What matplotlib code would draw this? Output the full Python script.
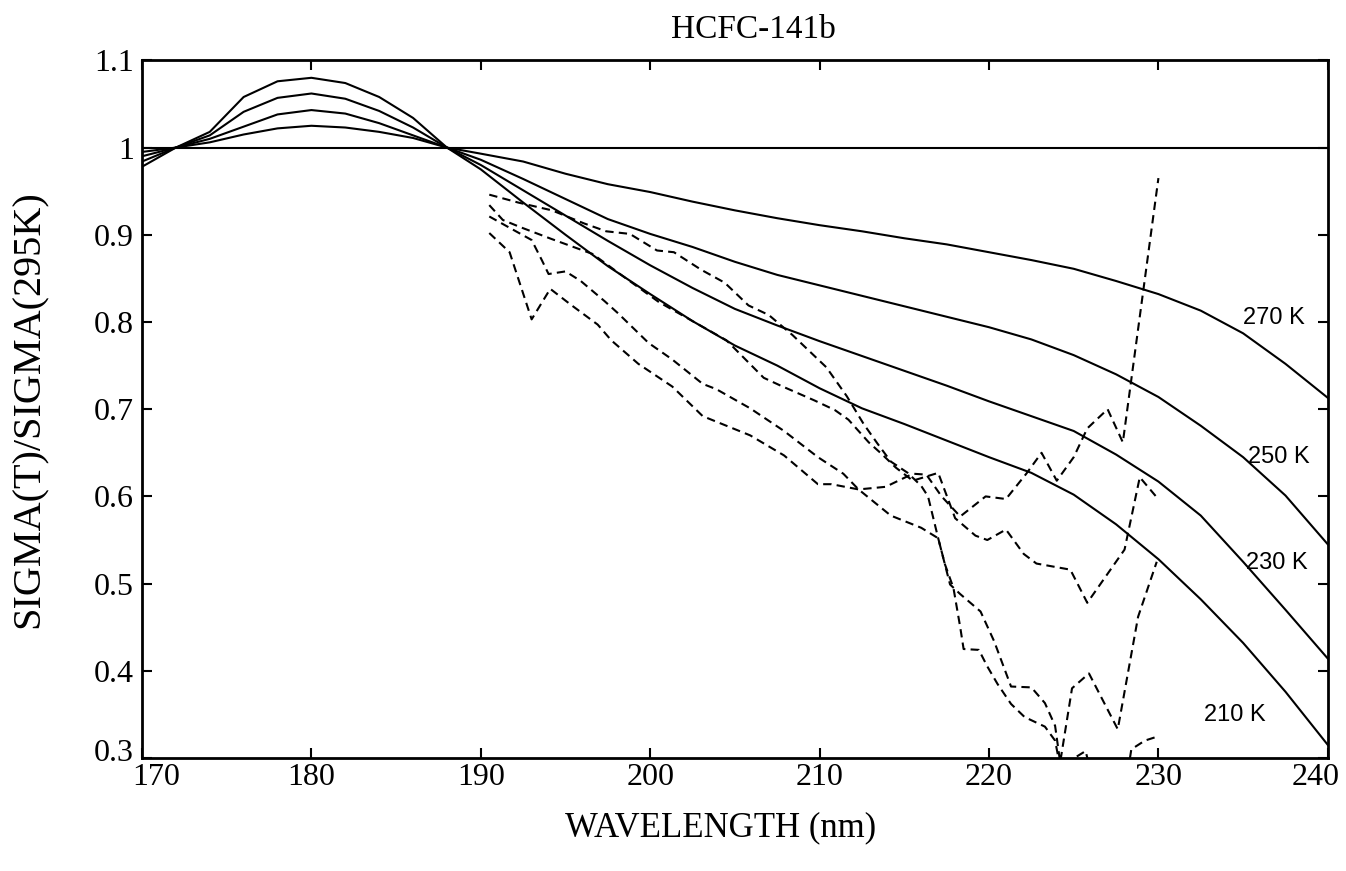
import numpy as np
import matplotlib
matplotlib.use("Agg")
import matplotlib.pyplot as plt
from matplotlib.transforms import ScaledTranslation

plt.rcParams['font.family'] = ['Liberation Serif', 'DejaVu Serif']

# longueurs d'onde communes des courbes calculees (trait plein)
wl = [170, 172, 174, 176, 178, 180, 182, 184, 186, 188, 190, 192.5, 195, 197.5,
      200, 202.5, 205, 207.5, 210, 212.5, 215, 217.5, 220, 222.5, 225, 227.5,
      230, 232.5, 235, 237.5, 240]

r270 = [.995, 1.0, 1.006, 1.015, 1.022, 1.025, 1.023, 1.018, 1.011, 1.0, .993,
        .984, .970, .958, .949, .938, .928, .919, .911, .904, .896, .889, .880,
        .871, .861, .847, .832, .813, .787, .752, .713]
r250 = [.990, 1.0, 1.010, 1.024, 1.038, 1.043, 1.039, 1.028, 1.014, 1.0, .986,
        .964, .941, .918, .901, .886, .869, .854, .842, .830, .818, .806, .794,
        .780, .762, .740, .714, .681, .645, .601, .545]
r230 = [.984, 1.0, 1.014, 1.041, 1.057, 1.062, 1.056, 1.042, 1.023, 1.0, .980,
        .951, .922, .893, .865, .839, .815, .796, .778, .761, .744, .727, .709,
        .692, .675, .648, .617, .578, .525, .470, .414]
r210 = [.978, 1.0, 1.018, 1.058, 1.076, 1.080, 1.074, 1.058, 1.034, 1.0, .975,
        .937, .900, .864, .832, .801, .773, .750, .724, .701, .683, .664, .645,
        .627, .602, .568, .528, .482, .432, .376, .315]
r295 = [1.0] * len(wl)

# mesures (tirets)
wl_a = [190.5, 192.2, 194.2, 196.1, 197.4, 198.8, 200.4, 201.4, 203.0, 204.4,
        205.8, 207.0, 208.4, 210.4, 211.6, 212.6, 213.4, 214.2, 215.2, 216.0,
        216.4, 217.0, 217.4, 217.9, 218.3, 218.5, 219.4, 219.9, 220.5, 221.3,
        222.1, 223.3, 223.9, 224.2, 225.7, 226.0, 228.2, 228.4, 229.2, 230.0]
mes_a = [.946, .937, .928, .913, .904, .901, .882, .880, .860, .845, .819, .808,
         .785, .748, .715, .683, .661, .640, .627, .612, .600, .552, .522, .495,
         .450, .425, .424, .405, .385, .362, .347, .336, .320, .290, .308, .285,
         .285, .310, .320, .325]

wl_b = [190.5, 191.3, 192.3, 194.2, 196.6, 198.5, 200.5, 202.5, 204.5, 206.7,
        207.7, 209.7, 210.9, 211.7, 212.9, 213.7, 214.5, 215.5, 217.0, 218.0,
        219.2, 219.9, 221.0, 222.05, 222.8, 224.8, 225.8, 228.0, 228.9, 229.9]
mes_b = [.934, .917, .909, .895, .878, .851, .823, .801, .779, .736, .727, .710,
         .699, .688, .662, .648, .633, .618, .627, .575, .555, .550, .562, .534,
         .523, .516, .478, .539, .622, .599]

wl_c = [190.5, 191.7, 193.0, 193.6, 194.0, 195.0, 195.9, 197.3, 198.1, 199.9,
        201.3, 203.1, 203.9, 205.9, 207.9, 209.9, 211.4, 212.3, 214.2, 216.0,
        217.0, 217.7, 218.3, 219.5, 220.3, 221.3, 222.5, 223.3, 223.9, 224.2,
        224.9, 225.9, 227.6, 228.8, 229.9]
mes_c = [.921, .908, .894, .871, .855, .858, .847, .824, .810, .776, .757, .729,
         .723, .701, .675, .645, .626, .608, .578, .564, .552, .499, .488, .468,
         .434, .382, .381, .363, .337, .295, .380, .397, .333, .462, .525]

wl_d = [190.5, 191.7, 193.0, 194.1, 195.3, 196.9, 197.7, 199.3, 201.3, 203.1,
        205.9, 207.9, 209.9, 210.7, 212.3, 213.9, 215.5, 216.3, 217.2, 218.3,
        219.8, 221.0, 222.2, 223.1, 224.0, 225.0, 225.8, 227.0, 227.9, 230.0]
mes_d = [.902, .880, .803, .838, .820, .797, .779, .752, .726, .692, .670, .647,
         .614, .614, .608, .611, .626, .625, .600, .577, .600, .597, .626, .650,
         .618, .645, .678, .700, .662, .965]

etiquettes = ['270 K', '250 K', '230 K', '210 K']
pos_etiquettes = [(236.8, 0.804), (237.1, 0.645), (237.0, 0.524), (234.5, 0.349)]

fig = plt.figure(figsize=(13.46, 8.71), dpi=100)
ax = fig.add_axes([0.1055, 0.1297, 0.881, 0.801])

for r in [r295, r270, r250, r230, r210]:
    ax.plot(wl, r, color='black', lw=1.5)

for x, y in [(wl_a, mes_a), (wl_b, mes_b), (wl_c, mes_c), (wl_d, mes_d)]:
    ax.plot(x, y, color='black', lw=1.5, linestyle=(0, (4, 2.5)))

for txt, (x, y) in zip(etiquettes, pos_etiquettes):
    ax.text(x, y, txt, ha='center', va='center', fontsize=17,
            family=['Liberation Sans', 'DejaVu Sans'])

ax.set_xlim(170, 240)
ax.set_ylim(0.3, 1.1)
ax.set_xticks(np.arange(170, 241, 10))
ax.set_yticks([0.3, 0.4, 0.5, 0.6, 0.7, 0.8, 0.9, 1.0, 1.1])
ax.set_yticklabels(['0.3', '0.4', '0.5', '0.6', '0.7', '0.8', '0.9', '1', '1.1'])
ax.tick_params(direction='in', top=True, right=True, length=7, width=1.5,
               labelsize=23)
ax.tick_params(axis='y', pad=6)
for sp in ax.spines.values():
    sp.set_linewidth(2)

# petits decalages des etiquettes du coin et du bord droit
fig.canvas.draw()
xlab = ax.get_xticklabels()
ylab = ax.get_yticklabels()
xlab[0].set_transform(xlab[0].get_transform() + ScaledTranslation(14 / 100, 0, fig.dpi_scale_trans))
xlab[-1].set_transform(xlab[-1].get_transform() + ScaledTranslation(-12 / 100, 0, fig.dpi_scale_trans))
ylab[0].set_transform(ylab[0].get_transform() + ScaledTranslation(0, 8 / 100, fig.dpi_scale_trans))

fig.text(0.56, 0.966, 'HCFC-141b', ha='center', va='center', fontsize=24)
fig.text(0.535, 0.05, 'WAVELENGTH (nm)', ha='center', va='center', fontsize=25)
fig.text(0.022, 0.53, 'SIGMA(T)/SIGMA(295K)', ha='center', va='center',
         fontsize=29, rotation=90)

fig.savefig('out.png', dpi=100)
